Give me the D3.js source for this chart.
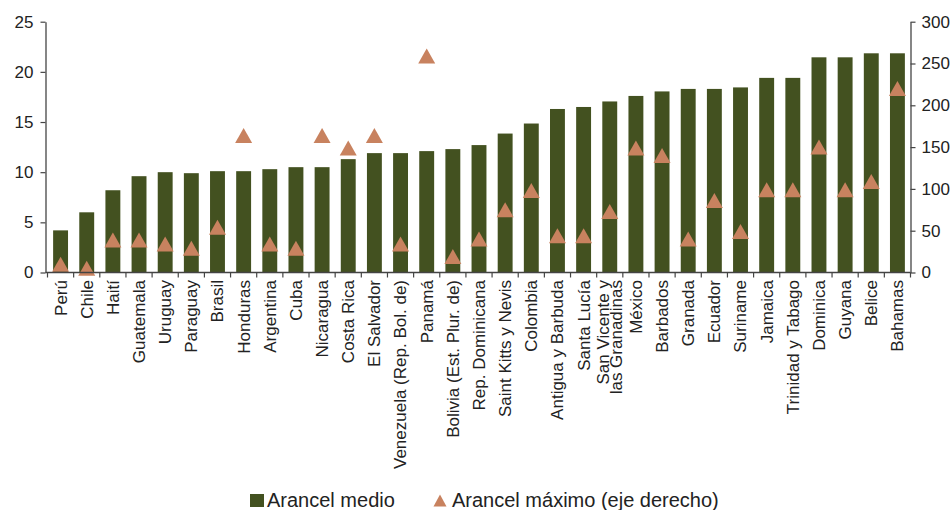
<!DOCTYPE html>
<html>
<head>
<meta charset="utf-8">
<script src="https://cdn.jsdelivr.net/npm/d3@7"></script>
<style>
  html, body { margin: 0; padding: 0; background: #fff; }
  svg { display: block; font-family: Arial, "Liberation Sans", sans-serif; }
</style>
</head>
<body>
<svg id="chart" width="950" height="510"></svg>
<script>
const countries = ["Perú","Chile","Haití","Guatemala","Uruguay","Paraguay","Brasil","Honduras","Argentina","Cuba","Nicaragua","Costa Rica","El Salvador","Venezuela (Rep. Bol. de)","Panamá","Bolivia (Est. Plur. de)","Rep. Dominicana","Saint Kitts y Nevis","Colombia","Antigua y Barbuda","Santa Lucía","San Vicente y\nlas Granadinas","México","Barbados","Granada","Ecuador","Suriname","Jamaica","Trinidad y Tabago","Dominica","Guyana","Belice","Bahamas"];
const arancelMedio = [4.2,6.0,8.2,9.6,10.0,9.9,10.1,10.1,10.3,10.5,10.5,11.3,11.9,11.9,12.1,12.3,12.7,13.85,14.85,16.3,16.5,17.05,17.6,18.05,18.3,18.3,18.45,19.4,19.4,21.45,21.45,21.85,21.85];
const arancelMaximo = [10,5,39,39,34,29,54,164,34,29,164,149,164,34,259,19,40,75,98,44,44,73,149,140,40,86,49,99,99,150,99,109,220];
const leftTicks = [0,5,10,15,20,25];
const rightTicks = [0,50,100,150,200,250,300];
const legendLabels = ["Arancel medio","Arancel máximo (eje derecho)"];

const barColor = "#435120";
const triColor = "#c8825f";
const axisColor = "#444";
const textColor = "#222";

const svg = d3.select("#chart");
const yBottom = 272.5, yTop = 21.7;
const leftX = 45.5, rightX = 910.5;

const x = d3.scaleBand().domain(countries).range([47.5, 910.5]).paddingInner(0.43).paddingOuter(0.215);
const yL = d3.scaleLinear().domain([0,25]).range([yBottom, yTop]);
const yR = d3.scaleLinear().domain([0,300]).range([yBottom, yTop]);
const step = x.step();

// bars
svg.append("g").selectAll("rect").data(countries).join("rect")
  .attr("x", d => x(d))
  .attr("width", x.bandwidth())
  .attr("y", (d,i) => yL(arancelMedio[i]))
  .attr("height", (d,i) => yBottom - yL(arancelMedio[i]))
  .attr("fill", barColor);

// triangles
const triW = 17, triH = 15;
const triPath = (w,h) => `M0,${-h/2}L${w/2},${h/2}L${-w/2},${h/2}Z`;
svg.append("g").selectAll("path").data(countries).join("path")
  .attr("d", triPath(triW, triH))
  .attr("transform", (d,i) => `translate(${x(d) + x.bandwidth()/2},${yR(arancelMaximo[i])})`)
  .attr("fill", triColor);

// left axis
const gL = svg.append("g").attr("transform", `translate(${leftX},0)`)
  .call(d3.axisLeft(yL).tickValues(leftTicks).tickSize(5).tickPadding(7).tickSizeOuter(0));
// right axis
const gR = svg.append("g").attr("transform", `translate(${rightX},0)`)
  .call(d3.axisRight(yR).tickValues(rightTicks).tickSize(5).tickPadding(6).tickSizeOuter(0));
[gL, gR].forEach(g => {
  g.select(".domain").attr("stroke", axisColor).attr("stroke-width", 1.3);
  g.selectAll(".tick line").attr("stroke", axisColor).attr("stroke-width", 1.2);
  g.selectAll(".tick text").attr("fill", textColor).attr("font-size", 17)
    .attr("font-family", "Arial, 'Liberation Sans', sans-serif");
});

// bottom axis line
svg.append("line").attr("x1", leftX).attr("x2", rightX).attr("y1", yBottom).attr("y2", yBottom)
  .attr("stroke", axisColor).attr("stroke-width", 1.3);
// bottom ticks at category boundaries
const bounds = countries.map(d => x(d) + x.bandwidth()/2 - step/2);
bounds.push(x(countries[countries.length-1]) + x.bandwidth()/2 + step/2);
svg.append("g").selectAll("line").data(bounds).join("line")
  .attr("x1", d => d).attr("x2", d => d)
  .attr("y1", yBottom).attr("y2", yBottom + 5)
  .attr("stroke", axisColor).attr("stroke-width", 1.2);

// category labels
const labels = svg.append("g").selectAll("text").data(countries).join("text")
  .attr("transform", d => `translate(${x(d) + x.bandwidth()/2},280) rotate(-90)`)
  .attr("text-anchor", "end")
  .attr("font-size", 17)
  .attr("fill", textColor);
labels.each(function(d) {
  const lines = d.split("\n");
  const t = d3.select(this);
  const lh = 13.5;
  lines.forEach((ln, k) => {
    t.append("tspan").attr("x", 0)
      .attr("y", (k - (lines.length-1)/2) * lh)
      .attr("dy", "0.35em")
      .text(ln);
  });
});

// legend
const lg = svg.append("g").attr("font-size", 20).attr("fill", textColor);
lg.append("rect").attr("x", 250).attr("y", 494).attr("width", 14).attr("height", 13).attr("fill", barColor);
lg.append("text").attr("x", 267).attr("y", 507).text(legendLabels[0]);
lg.append("path").attr("d", triPath(13, 12)).attr("transform", "translate(440,500.5)").attr("fill", triColor);
lg.append("text").attr("x", 452).attr("y", 507).text(legendLabels[1]);
</script>
</body>
</html>
